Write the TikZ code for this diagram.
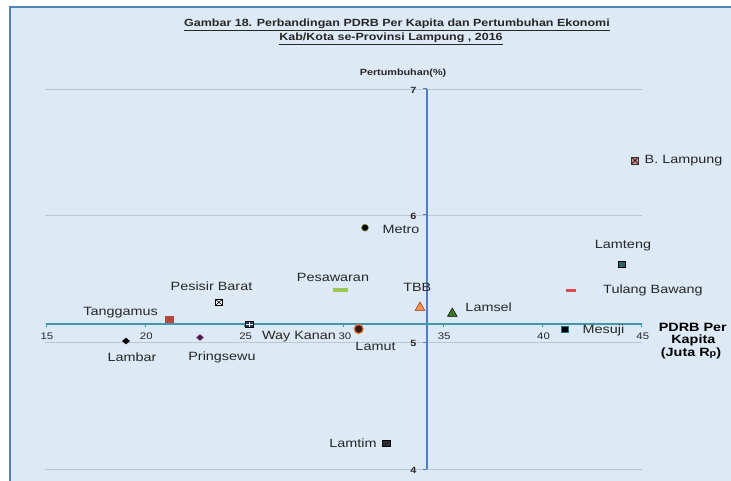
\documentclass[tikz,border=0pt]{standalone}
\usepackage{fontspec}
\setmainfont{Liberation Sans}[FakeStretch=1.2]
\usetikzlibrary{shapes.geometric}
\definecolor{bgblue}{HTML}{DDEAF6}
\definecolor{frameblue}{HTML}{4F81BD}
\definecolor{xaxisc}{HTML}{3A9BAE}
\definecolor{yaxisc}{HTML}{4A80C4}
\definecolor{gridc}{HTML}{BCC6D2}
\definecolor{txt}{HTML}{262626}
\tikzset{
  lbl/.style={font=\fontsize{12}{14}\selectfont, text=txt, inner sep=0pt},
  ticklbl/.style={font=\fontsize{9.5}{10}\selectfont, text=txt, inner sep=0pt},
  axlbl/.style={font=\bfseries\fontsize{12}{14}\selectfont, text=black, inner sep=0pt},
  mk/.style={inner sep=0pt, line width=0.5pt},
  xmark/.style={path picture={\draw[black, line width=0.6pt]
      (path picture bounding box.north west) -- (path picture bounding box.south east)
      (path picture bounding box.north east) -- (path picture bounding box.south west);}},
  pmark/.style={path picture={\draw[white, line width=0.8pt]
      (path picture bounding box.north) -- (path picture bounding box.south)
      (path picture bounding box.east) -- (path picture bounding box.west);}}
}
\begin{document}
\begin{tikzpicture}[x=1pt,y=-1pt]
\useasboundingbox (0,0) rectangle (731,481);
\fill[white] (0,0) rectangle (731,481);
\fill[bgblue] (10,7) rectangle (731,481);
\draw[frameblue, line width=2.5pt] (10,481) -- (10,7) -- (731,7);

% title
\node[font=\bfseries\fontsize{10.4}{12}\selectfont, text=txt, inner sep=0pt] (t1) at (397,25)
  {\underline{Gambar 18. Perbandingan PDRB Per Kapita dan Pertumbuhan Ekonomi}};
\node[font=\bfseries\fontsize{10.4}{12}\selectfont, text=txt, inner sep=0pt] (t2) at (391,38.5)
  {\underline{Kab/Kota se-Provinsi Lampung , 2016}};

% grid lines
\foreach \yy in {89,215,342,469} \draw[gridc, line width=0.5pt] (45,\yy) -- (642,\yy);

% y axis
\coordinate (ytop) at (426.7,89);
\coordinate (ybot) at (426.7,469);
\draw[yaxisc, line width=1.8pt] (ytop) -- (ybot);
\foreach \yy/\v in {89/7,215/6,342/5,469/4}{
  \draw[yaxisc, line width=1pt] (423,\yy) -- (426.7,\yy);
  \node[ticklbl, font=\bfseries\fontsize{9}{10}\selectfont] (y\v) at (413.3,\yy+1) {\v};
}
\node[font=\bfseries\fontsize{9}{10}\selectfont, text=txt, inner sep=0pt] (ylab) at (403,72.7) {Pertumbuhan(\%)};

% x axis
\coordinate (xl) at (45.7,324.3);
\coordinate (xr) at (641.8,324.3);
\draw[xaxisc, line width=1.8pt] (xl) -- (xr);
\foreach \v in {15,20,25,30,35,40,45}{
  \pgfmathsetmacro{\px}{46+(\v-15)*19.86}
  \draw[xaxisc, line width=1pt] (\px,324.3) -- (\px,327);
  \node[ticklbl] (x\v) at (\px+1,336) {\v};
}
\node[axlbl] (xl1) at (692.8,327.7) {PDRB Per};
\node[axlbl] (xl2) at (693.3,340.5) {Kapita};
\node[axlbl] (xl3) at (691,353.5) {(Juta R{\fontsize{9}{10}\selectfont p})};

% markers
\node[mk, draw=black!80, fill={rgb,255:red,205;green,140;blue,140}, minimum size=7pt, xmark] (mBL) at (635,160.5) {};
\node[mk, draw=black, fill={rgb,255:red,40;green,100;blue,100}, minimum width=7pt, minimum height=6pt] (mLT) at (622,264) {};
\node[mk, fill={rgb,255:red,225;green,75;blue,75}, minimum width=10pt, minimum height=3pt] (mTB) at (571,290) {};
\node[mk, draw={rgb,255:red,40;green,110;blue,130}, fill=black, minimum width=7pt, minimum height=6pt] (mMS) at (564.3,329.3) {};
\node[mk, draw=black, fill={rgb,255:red,60;green,120;blue,35}, regular polygon, regular polygon sides=3, minimum size=11pt] (mLS) at (452.3,313.5) {};
\node[mk, draw={rgb,255:red,150;green,40;blue,20}, fill={rgb,255:red,240;green,150;blue,80}, regular polygon, regular polygon sides=3, minimum size=11pt] (mTBB) at (420,307.5) {};
\node[mk, draw={rgb,255:red,150;green,150;blue,60}, fill=black, circle, minimum size=7pt] (mMT) at (365,227.7) {};
\node[mk, fill={rgb,255:red,155;green,200;blue,85}, minimum width=15pt, minimum height=4pt] (mPW) at (340.3,290) {};
\node[mk, draw={rgb,255:red,230;green,120;blue,60}, line width=1.2pt, fill={rgb,255:red,60;green,25;blue,15}, circle, minimum size=9pt] (mLU) at (358.7,329) {};
\node[mk, draw=black, fill={rgb,255:red,45;green,45;blue,50}, minimum width=8pt, minimum height=5.5pt] (mLTi) at (386.7,443.3) {};
\node[mk, draw=black, fill={rgb,255:red,25;green,55;blue,100}, minimum width=8pt, minimum height=6pt, pmark] (mWK) at (249.3,324.3) {};
\node[mk, draw=black, fill=white, minimum width=7pt, minimum height=6pt, xmark] (mPB) at (219,302.3) {};
\node[mk, fill={rgb,255:red,180;green,72;blue,58}, minimum width=9pt, minimum height=7.5pt] (mTG) at (169.3,319.3) {};
\node[mk, fill=black, diamond, minimum width=8pt, minimum height=7pt] (mLB) at (126,341) {};
\node[mk, draw={rgb,255:red,190;green,130;blue,190}, fill={rgb,255:red,70;green,25;blue,75}, diamond, minimum width=8pt, minimum height=7pt] (mPS) at (200,337.5) {};

% labels
\node[lbl] (lBL) at (683.5,160.5) {B. Lampung};
\node[lbl] (lLT) at (623,246) {Lamteng};
\node[lbl] (lTB) at (653,290.5) {Tulang Bawang};
\node[lbl] (lMS) at (603.5,330.5) {Mesuji};
\node[lbl] (lLS) at (488.7,307.3) {Lamsel};
\node[lbl] (lTBB) at (417.3,287.3) {TBB};
\node[lbl] (lMT) at (401,229) {Metro};
\node[lbl] (lPW) at (333,277.3) {Pesawaran};
\node[lbl] (lLU) at (375.5,346.5) {Lamut};
\node[lbl] (lLTi) at (353,443.3) {Lamtim};
\node[lbl] (lWK) at (299,336.5) {Way Kanan};
\node[lbl] (lPB) at (211.5,286) {Pesisir Barat};
\node[lbl] (lTG) at (120.7,312.5) {Tanggamus};
\node[lbl] (lLB) at (132,357) {Lambar};
\node[lbl] (lPS) at (222,357.5) {Pringsewu};
\end{tikzpicture}
\end{document}
